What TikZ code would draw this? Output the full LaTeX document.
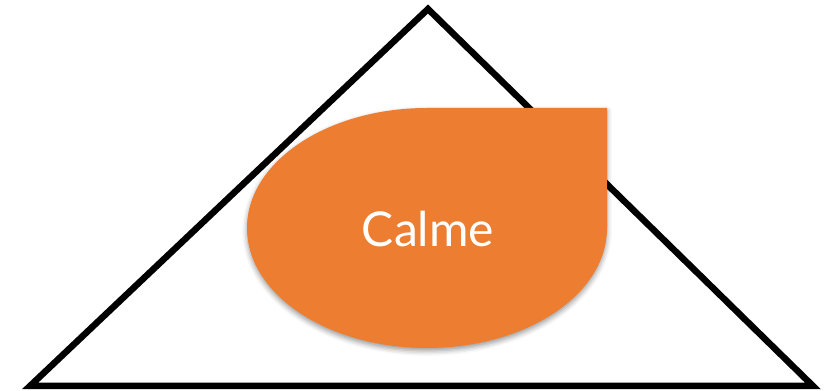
\documentclass[tikz,border=0pt]{standalone}
\usepackage{fontspec}
\setmainfont{Lato}
\usetikzlibrary{shadows.blur}
\definecolor{calmeorange}{HTML}{ED7D31}
\tikzset{
  tri/.style={draw=black, line width=6.5pt, line join=miter},
  drop/.style={fill=calmeorange, blur shadow={shadow xshift=0pt, shadow yshift=-3pt, shadow blur radius=5pt, shadow opacity=40}},
  lbl/.style={text=white, font=\fontsize{48}{56}\selectfont, anchor=base, inner sep=0pt}
}
\begin{document}
\begin{tikzpicture}[x=1pt,y=1pt]
\useasboundingbox (0,0) rectangle (825,391);
\coordinate (apex) at (428,382);
\coordinate (bl) at (30,5);
\coordinate (br) at (813,5);
\draw[tri] (apex) -- (br) -- (bl) -- cycle;
\path[drop] (607,283) -- (607,163)
  arc[start angle=0, end angle=-90, x radius=180, y radius=120]
  arc[start angle=270, end angle=180, x radius=180, y radius=120]
  arc[start angle=180, end angle=90, x radius=180, y radius=120]
  -- cycle;
\node[lbl] (calme) at (428,144) {Calme};
\end{tikzpicture}
\end{document}
